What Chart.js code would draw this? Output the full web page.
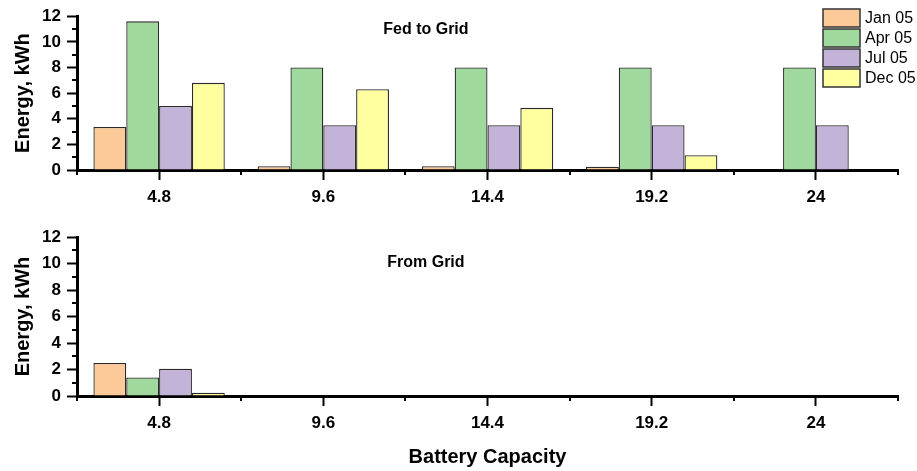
<!DOCTYPE html>
<html>
<head>
<meta charset="utf-8">
<script src="https://cdn.jsdelivr.net/npm/chart.js@4.4.1/dist/chart.umd.min.js"></script>
<style>
  html, body { margin: 0; padding: 0; background: #fff; }
  #wrap { position: relative; width: 917px; height: 471px; }
  #c1 { position: absolute; left: 0; top: 0; }
  #c2 { position: absolute; left: 0; top: 215px; }
</style>
</head>
<body>
<div id="wrap">
  <canvas id="c1" width="917" height="215"></canvas>
  <canvas id="c2" width="917" height="256"></canvas>
</div>
<script>
// ---- data ----
const categories = ['4.8', '9.6', '14.4', '19.2', '24'];
const seriesNames = ['Jan 05', 'Apr 05', 'Jul 05', 'Dec 05'];

const fedJan = [3.35, 0.3, 0.3, 0.25, 0];
const fedApr = [11.6, 8.0, 8.0, 8.0, 8.0];
const fedJul = [5.0, 3.5, 3.5, 3.5, 3.5];
const fedDec = [6.8, 6.3, 4.85, 1.15, 0];

const fromJan = [2.5, 0, 0, 0, 0];
const fromApr = [1.4, 0, 0, 0, 0];
const fromJul = [2.05, 0, 0, 0, 0];
const fromDec = [0.25, 0, 0, 0, 0];

const yTicks = [0, 2, 4, 6, 8, 10, 12];

// ---- styles ----
const fills = ['#FCC998', '#A0D99D', '#C3B3D8', '#FFFFA0'];
const edge = '#2a2a2a';
const FONT = '"Liberation Sans", Arial, Helvetica, sans-serif';
Chart.defaults.font.family = FONT;
Chart.defaults.color = '#000';

function makeDatasets(arrs) {
  return arrs.map((d, i) => ({
    label: seriesNames[i],
    data: d,
    backgroundColor: fills[i],
    borderColor: edge,
    borderWidth: 1.3,
    categoryPercentage: 0.8,
    barPercentage: 1.0
  }));
}

function line(ctx, x1, y1, x2, y2) {
  ctx.beginPath(); ctx.moveTo(x1, y1); ctx.lineTo(x2, y2); ctx.stroke();
}

const minorTicks = {
  id: 'minorTicks',
  afterDraw(chart) {
    const { ctx, chartArea } = chart;
    const x = chart.scales.x, y = chart.scales.y;
    ctx.save();
    ctx.strokeStyle = '#000';
    ctx.lineWidth = 2;
    for (let v = y.min + 1; v < y.max; v += 2) {
      const py = Math.round(y.getPixelForValue(v));
      line(ctx, chartArea.left - 5, py, chartArea.left, py);
    }
    const w = x.getPixelForValue(1) - x.getPixelForValue(0);
    const p0 = x.getPixelForValue(0);
    for (let i = 0; i <= categories.length; i++) {
      const px = Math.round(p0 + (i - 0.5) * w);
      line(ctx, px, chartArea.bottom, px, chartArea.bottom + 5);
    }
    ctx.restore();
  }
};

const panelTitle = {
  id: 'panelTitle',
  afterDraw(chart, args, opts) {
    const { ctx, chartArea } = chart;
    ctx.save();
    ctx.font = 'bold 16px ' + FONT;
    ctx.fillStyle = '#000';
    ctx.textAlign = 'center';
    ctx.textBaseline = 'middle';
    const cx = chartArea.left + (chartArea.right - chartArea.left) * 0.425;
    ctx.fillText(opts.text, cx, chartArea.top + opts.dy);
    ctx.restore();
  }
};

const boxLegend = {
  id: 'boxLegend',
  afterDraw(chart, args, opts) {
    if (!opts.show) return;
    const { ctx, chartArea } = chart;
    ctx.save();
    ctx.font = '16px ' + FONT;
    ctx.textBaseline = 'middle';
    ctx.textAlign = 'left';
    const bx = chartArea.right - 75, bw = 37, bh = 18;
    chart.data.datasets.forEach((ds, i) => {
      const by = 9 + i * 20;
      ctx.fillStyle = ds.backgroundColor;
      ctx.fillRect(bx, by, bw, bh);
      ctx.strokeStyle = '#333';
      ctx.lineWidth = 1.5;
      ctx.strokeRect(bx, by, bw, bh);
      ctx.fillStyle = '#000';
      ctx.fillText(ds.label, bx + 42, by + bh / 2 + 1);
    });
    ctx.restore();
  }
};

function makeChart(canvasId, arrs, opts) {
  return new Chart(document.getElementById(canvasId), {
    type: 'bar',
    data: { labels: categories, datasets: makeDatasets(arrs) },
    plugins: [minorTicks, panelTitle, boxLegend],
    options: {
      responsive: false,
      animation: false,
      devicePixelRatio: 1,
      layout: { padding: { left: 0, right: 19, top: opts.top, bottom: 0 } },
      plugins: {
        legend: { display: false },
        tooltip: { enabled: false },
        panelTitle: { text: opts.title, dy: opts.titleDy },
        boxLegend: { show: opts.legend }
      },
      scales: {
        x: {
          type: 'category',
          offset: true,
          z: 1,
          grid: { display: true, drawOnChartArea: false, offset: false, tickLength: 10, tickWidth: 2, tickColor: '#000' },
          border: { display: true, color: '#000', width: 3 },
          ticks: { font: { size: 17, weight: 'bold' }, color: '#000', padding: 7, maxRotation: 0 },
          title: opts.xTitle ? { display: true, text: 'Battery Capacity', font: { size: 20, weight: 'bold' }, color: '#000', padding: { top: 0, bottom: 2 } } : { display: false },
          afterFit(scale) { scale.height = opts.xHeight; }
        },
        y: {
          min: 0, max: 12,
          z: 1,
          afterBuildTicks(scale) { scale.ticks = yTicks.map(v => ({ value: v })); },
          grid: { display: true, drawOnChartArea: false, tickLength: 10, tickWidth: 2, tickColor: '#000' },
          border: { display: true, color: '#000', width: 3 },
          ticks: { font: { size: 17, weight: 'bold' }, color: '#000', padding: 6 },
          title: { display: true, text: 'Energy, kWh', font: { size: 20, weight: 'bold' }, color: '#000', padding: { top: 11, bottom: 0 } },
          afterFit(scale) { scale.width = 77; }
        }
      }
    }
  });
}

makeChart('c1', [fedJan, fedApr, fedJul, fedDec], { top: 12, xHeight: 45, title: 'Fed to Grid', titleDy: 13, legend: true, xTitle: false });
makeChart('c2', [fromJan, fromApr, fromJul, fromDec], { top: 22, xHeight: 75, title: 'From Grid', titleDy: 26, legend: false, xTitle: true });
</script>
</body>
</html>
